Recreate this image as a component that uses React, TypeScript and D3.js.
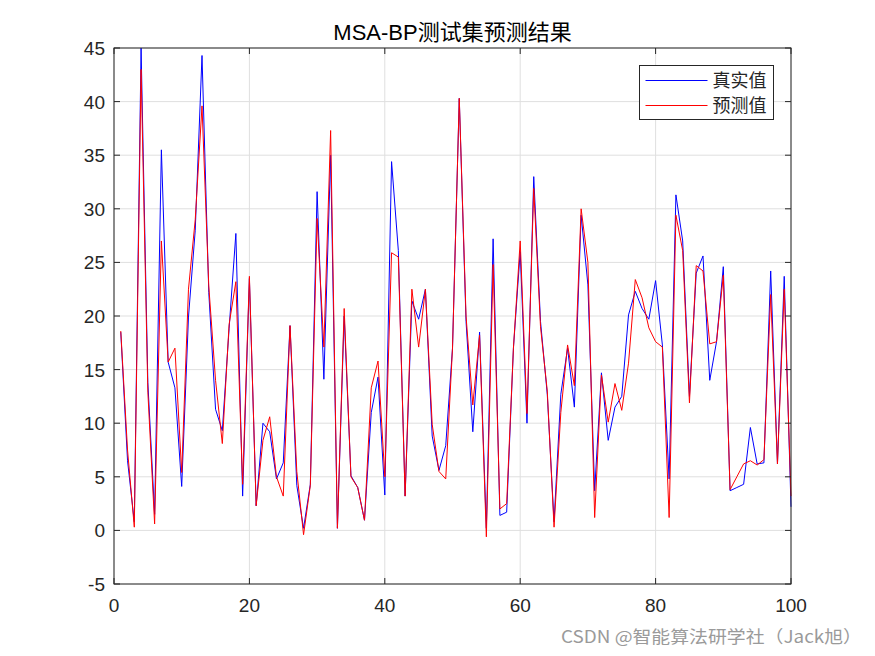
import React from "react";
import * as d3 from "d3";

const width = 875;
const height = 656;
const margin = { left: 114, right: 84, top: 48, bottom: 72 };

const title = "MSA-BP测试集预测结果";
const seriesNames = ["真实值", "预测值"];
const seriesColors = ["#0000ff", "#ff0000"];

// 真实值
const actual = [
  18.5, 6.5, 0.8, 45, 13.8, 1.5, 35.5, 15.7, 13.3, 4.1,
  19.9, 28, 44.3, 22.2, 11.3, 9.3, 18.8, 27.7, 3.2, 23.5,
  2.3, 10, 9.2, 4.8, 6.3, 19.1, 4.2, 0.2, 4.3, 31.6,
  14.1, 35, 0.2, 20, 5.1, 4.0, 0.95, 11, 14.3, 3.3,
  34.4, 26.1, 3.2, 21.4, 19.7, 22.5, 8.8, 5.6, 7.9, 17,
  40.3, 19.5, 9.2, 18.5, 0.2, 27.2, 1.4, 1.7, 17, 26,
  10, 33, 19.5, 12.7, 0.8, 12.7, 17, 11.5, 29.4, 22.9,
  3.7, 14.7, 8.4, 11.5, 12.5, 20.1, 22.3, 20.7, 19.7, 23.3,
  17.3, 4.8, 31.3, 27.0, 12.5, 24.0, 25.6, 14.0, 17.6, 24.6,
  3.7, 4.0, 4.3, 9.6, 6.2, 6.3, 24.2, 6.2, 23.7, 2.2,
];

// 预测值
const predicted = [
  18.6, 7.5, 0.3, 43, 12.9, 0.6, 27, 15.7, 17, 5.4,
  22.5, 29, 39.6, 22.8, 14, 8.1, 19.2, 23.2, 4.3, 23.7,
  2.3, 8.4, 10.6, 5.0, 3.2, 19.1, 5.5, -0.4, 4.2, 29.1,
  17.1, 37.3, 0.2, 20.7, 5.0, 4.0, 0.95, 13.3, 15.8, 5,
  25.9, 25.5, 3.2, 22.5, 17.1, 22.5, 9.9, 5.5, 4.8, 17,
  40.3, 20, 11.7, 18.2, -0.6, 24.8, 2.0, 2.5, 17, 27,
  10.9, 31.9, 19, 13, 0.3, 11, 17.3, 13.5, 30, 25,
  1.2, 14.5, 10.1, 13.7, 11.2, 15.6, 23.4, 21.7, 18.9, 17.6,
  17.1, 1.2, 29.4, 26.1, 11.9, 24.7, 24.2, 17.4, 17.6, 23.8,
  3.8, 5.0, 6.2, 6.5, 6.1, 6.6, 22.0, 6.2, 22.5, 3.2,
];

const xTicks = [0, 20, 40, 60, 80, 100];
const yTicks = [-5, 0, 5, 10, 15, 20, 25, 30, 35, 40, 45];

const watermark = "CSDN @智能算法研学社（Jack旭）";

const tickFont = "'Liberation Sans', Arial, sans-serif";
const cjkFont = "'Liberation Sans', 'Noto Sans CJK SC', sans-serif";

export default function App() {
  const x = d3
    .scaleLinear()
    .domain([0, 100])
    .range([margin.left, width - margin.right]);
  const y = d3
    .scaleLinear()
    .domain([-5, 45])
    .range([height - margin.bottom, margin.top]);

  const line = d3
    .line<number>()
    .x((_, i) => x(i + 1))
    .y((d) => y(d));

  const x0 = x.range()[0];
  const x1 = x.range()[1];
  const y0 = y.range()[0];
  const y1 = y.range()[1];
  const axisColor = "#262626";
  const tickLen = 6;

  const legendX = 639.5;
  const legendY = 65.5;

  return (
    <div style={{ position: "absolute", left: 0, top: 0 }}>
      <svg width={width} height={height} style={{ display: "block", background: "#fff" }}>
        <rect x={x0} y={y1} width={x1 - x0} height={y0 - y1} fill="#fff" />

        {/* grid */}
        {xTicks.map((t) => (
          <line key={"gx" + t} x1={x(t)} x2={x(t)} y1={y1} y2={y0} stroke="#dfdfdf" />
        ))}
        {yTicks.map((t) => (
          <line key={"gy" + t} x1={x0} x2={x1} y1={y(t)} y2={y(t)} stroke="#dfdfdf" />
        ))}

        {/* data */}
        <path d={line(actual) || ""} fill="none" stroke={seriesColors[0]} strokeWidth={1} />
        <path d={line(predicted) || ""} fill="none" stroke={seriesColors[1]} strokeWidth={1} />

        {/* box */}
        <rect x={x0} y={y1} width={x1 - x0} height={y0 - y1} fill="none" stroke={axisColor} strokeWidth={1} />

        {/* ticks */}
        {xTicks.map((t) => (
          <g key={"tx" + t}>
            <line x1={x(t)} x2={x(t)} y1={y0} y2={y0 - tickLen} stroke={axisColor} />
            <line x1={x(t)} x2={x(t)} y1={y1} y2={y1 + tickLen} stroke={axisColor} />
            <text
              x={x(t)}
              y={y0 + 28}
              textAnchor="middle"
              fontFamily={tickFont}
              fontSize={19}
              fill={axisColor}
            >
              {t}
            </text>
          </g>
        ))}
        {yTicks.map((t) => (
          <g key={"ty" + t}>
            <line x1={x0} x2={x0 + tickLen} y1={y(t)} y2={y(t)} stroke={axisColor} />
            <line x1={x1} x2={x1 - tickLen} y1={y(t)} y2={y(t)} stroke={axisColor} />
            <text
              x={x0 - 9}
              y={y(t) + 7}
              textAnchor="end"
              fontFamily={tickFont}
              fontSize={19}
              fill={axisColor}
            >
              {t}
            </text>
          </g>
        ))}

        {/* title */}
        <text
          x={(x0 + x1) / 2}
          y={40}
          textAnchor="middle"
          fontFamily={cjkFont}
          fontSize={22}
          fill="#000"
        >
          {title}
        </text>

        {/* legend */}
        <rect x={legendX} y={legendY} width={134} height={54} fill="#fff" stroke={axisColor} />
        {seriesNames.map((name, i) => (
          <g key={name}>
            <line
              x1={legendX + 6}
              x2={legendX + 68}
              y1={legendY + 15 + i * 25}
              y2={legendY + 15 + i * 25}
              stroke={seriesColors[i]}
              strokeWidth={1.2}
            />
            <text
              x={legendX + 73}
              y={legendY + 21.5 + i * 25}
              fontFamily="'Noto Sans CJK SC', sans-serif"
              fontSize={18}
              fill="#262626"
            >
              {name}
            </text>
          </g>
        ))}

        {/* watermark */}
        <text
          x={561}
          y={643}
          textLength={301}
          lengthAdjust="spacingAndGlyphs"
          fontFamily="'Noto Sans CJK SC', sans-serif"
          fontSize={17}
          fill="#9a9a9a"
        >
          {watermark}
        </text>
      </svg>
    </div>
  );
}
